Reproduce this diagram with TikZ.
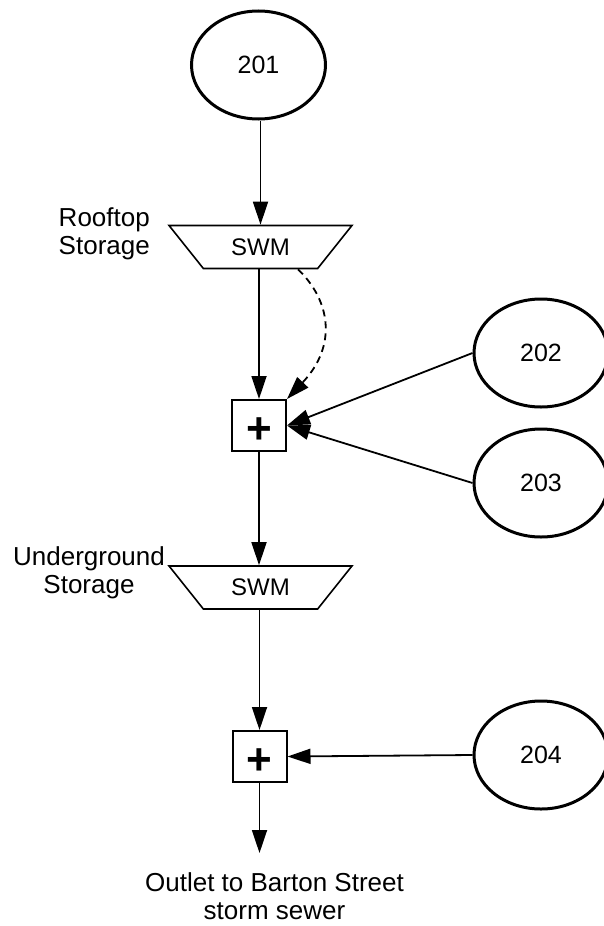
\documentclass[tikz,border=0pt]{standalone}
\usepackage{fontspec}
\setmainfont{Liberation Sans}
\usetikzlibrary{shapes.geometric,arrows.meta}
\tikzset{
  catch/.style={ellipse, draw, line width=3pt, minimum width=134pt, minimum height=108pt, inner sep=0pt,
    font=\fontsize{25}{28}\selectfont},
  swm/.style={trapezium, draw, line width=1.6pt, trapezium angle=44, shape border rotate=180,
    trapezium stretches=true, minimum width=184pt, minimum height=43pt, inner sep=0pt,
    font=\fontsize{24}{28}\selectfont},
  junction/.style={rectangle, draw, line width=2pt, minimum width=54pt, minimum height=51pt, inner sep=0pt,
    font=\fontsize{44}{44}\selectfont\bfseries},
  lbl/.style={inner sep=0pt, font=\fontsize{26}{28}\selectfont},
  flow/.style={line width=1.8pt, -{Triangle[length=23pt,width=15pt]}},
  spill/.style={flow, dashed, dash pattern=on 7pt off 5pt}
}
\begin{document}
\begin{tikzpicture}[x=1pt,y=-1pt]
\useasboundingbox[fill=white] (0,0) rectangle (603,926);
\node[catch] (e201) at (258.5,65) {201};
\node[catch] (e202) at (541,353) {202};
\node[catch] (e203) at (541,483) {203};
\node[catch] (e204) at (541,755) {204};
\node[swm] (t1) at (260.5,247) {SWM};
\node[swm] (t2) at (260.5,587.5) {SWM};
\node[junction] (j1) at (259,425.5) {\raisebox{-5pt}[\height][\depth]{+}};
\node[junction] (j2) at (259.5,756.5) {\raisebox{-5pt}[\height][\depth]{+}};
\node[lbl, anchor=east, align=right] (l1) at (150,234) {Rooftop\\Storage};
\node[lbl, align=center] (l2) at (89,573) {Underground\\Storage};
\node[lbl, align=center] (l3) at (274.5,896.5) {Outlet to Barton Street\\storm sewer};
\coordinate (out) at (259.5,853);
\draw[flow] (e201.south -| t1.north) -- (t1.north);
\draw[flow] (t1.south -| j1.north) -- (j1.north);
\draw[spill] ([xshift=37.5pt]t1.south) .. controls (330,300) and (338,345) .. (j1.north east);
\draw[flow] (e202.west) -- (j1.east);
\draw[flow] (e203.west) -- (j1.east);
\draw[flow] (j1.south) -- (j1.south |- t2.north);
\draw[flow] (t2.south -| j2.north) -- (j2.north);
\draw[flow] (e204.west) -- (j2.east);
\draw[flow] (j2.south) -- (out);
\end{tikzpicture}
\end{document}
